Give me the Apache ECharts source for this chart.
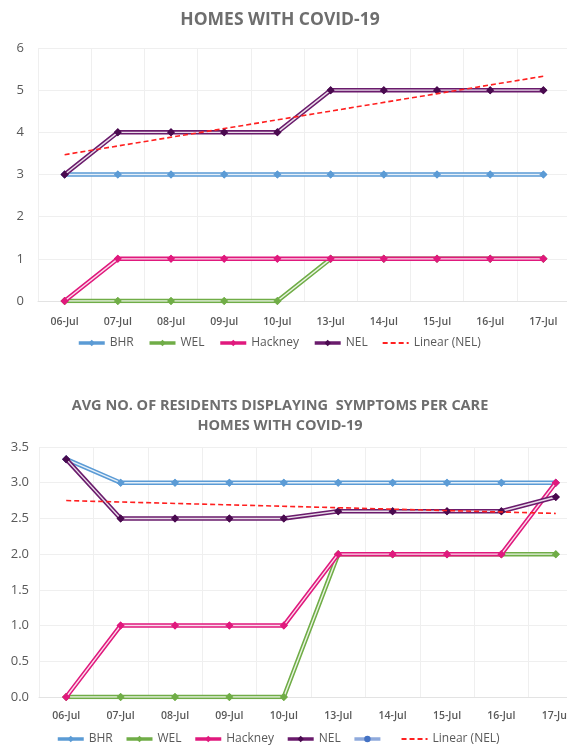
<!DOCTYPE html>
<html>
<head>
<meta charset="utf-8">
<script src="https://cdn.jsdelivr.net/npm/echarts@6/dist/echarts.min.js"></script>
<style>
html,body{margin:0;padding:0;background:#fff;overflow:hidden;width:567px;height:745px;}
#chart{width:600px;height:745px;}
</style>
</head>
<body>
<div id="chart"></div>
<script>
// ---------- DATA ----------
const categories = ['06-Jul','07-Jul','08-Jul','09-Jul','10-Jul','13-Jul','14-Jul','15-Jul','16-Jul','17-Jul'];

// Chart 1: Homes with COVID-19
const homesBHR     = [3,3,3,3,3,3,3,3,3,3];
const homesWEL     = [0,0,0,0,0,1,1,1,1,1];
const homesHackney = [0,1,1,1,1,1,1,1,1,1];
const homesNEL     = [3,4,4,4,4,5,5,5,5,5];
const homesTrendNEL = [3.47,null,null,null,null,null,null,null,null,5.33];
const homesYTicks = [0,1,2,3,4,5,6];

// Chart 2: Avg no. of residents displaying symptoms per care home with COVID-19
const avgBHR     = [3.33,3.0,3.0,3.0,3.0,3.0,3.0,3.0,3.0,3.0];
const avgWEL     = [0,0,0,0,0,2,2,2,2,2];
const avgHackney = [0,1,1,1,1,2,2,2,2,3];
const avgNEL     = [3.33,2.5,2.5,2.5,2.5,2.6,2.6,2.6,2.6,2.8];
const avgBlank   = [null,null,null,null,null,null,null,null,null,null];
const avgTrendNEL = [2.75,null,null,null,null,null,null,null,null,2.57];
const avgYTicks = ['0.0','0.5','1.0','1.5','2.0','2.5','3.0','3.5'];

// ---------- STYLE ----------
const C = {
  BHR:  {line:'#5B9BD5', mark:'#5B9BD5'},
  WEL:  {line:'#70AD47', mark:'#70AD47'},
  Hack: {line:'#E0197D', mark:'#E0197D'},
  NEL:  {line:'#6A1B6C', mark:'#4A0A4F'},
  Blank:{line:'#8FAADC', mark:'#4472C4'}
};
const FONT = 'Open Sans';
const GREY = '#595959';

function doubleLine(name, data, col, gi, symbol, zBase) {
  const out = [];
  out.push({
    name: name, type: 'line', xAxisIndex: gi, yAxisIndex: gi, data: data,
    symbol: symbol, symbolSize: 8, showSymbol: true,
    lineStyle: {color: col.line, width: 4.5},
    itemStyle: {color: col.mark, borderWidth: 0},
    z: zBase, animation: false, silent: true
  });
  out.push({
    name: name + '_inner', type: 'line', xAxisIndex: gi, yAxisIndex: gi, data: data,
    showSymbol: false, symbol: 'none',
    lineStyle: {color: 'rgba(255,255,255,0.85)', width: 1.4},
    z: zBase + 1, animation: false, silent: true
  });
  out.push({
    name: name + '_marks', type: 'line', xAxisIndex: gi, yAxisIndex: gi, data: data,
    symbol: symbol, symbolSize: 8, showSymbol: true,
    lineStyle: {opacity: 0, width: 0},
    itemStyle: {color: col.mark, borderWidth: 0},
    z: zBase + 2, animation: false, silent: true
  });
  return out;
}

function trend(name, data, gi) {
  return {
    name: name, type: 'line', xAxisIndex: gi, yAxisIndex: gi, data: data,
    connectNulls: true, symbol: 'none', showSymbol: false,
    lineStyle: {color: '#FF2020', width: 1.6, type: [5, 3]},
    itemStyle: {color: '#FF2020'},
    z: 20, animation: false, silent: true
  };
}

const xAxisCommon = {
  type: 'category', data: categories, boundaryGap: true,
  axisLine: {show: true, lineStyle: {color: '#E3E3E3', width: 1}},
  axisTick: {show: false},
  splitLine: {show: true, lineStyle: {color: '#EFEFEF', width: 1}},
  axisLabel: {color: GREY, fontFamily: FONT, fontSize: 10.5, fontWeight: 600, interval: 0}
};

let series = [];
series = series.concat(doubleLine('BHR', homesBHR, C.BHR, 0, 'diamond', 2));
series = series.concat(doubleLine('WEL', homesWEL, C.WEL, 0, 'diamond', 5));
series = series.concat(doubleLine('Hackney', homesHackney, C.Hack, 0, 'diamond', 8));
series = series.concat(doubleLine('NEL', homesNEL, C.NEL, 0, 'diamond', 11));
series.push(trend('Linear (NEL)', homesTrendNEL, 0));

// second chart uses distinct names for legend
series = series.concat(doubleLine('BHR\u200b', avgBHR, C.BHR, 1, 'diamond', 2));
series = series.concat(doubleLine('WEL\u200b', avgWEL, C.WEL, 1, 'diamond', 5));
series = series.concat(doubleLine('Hackney\u200b', avgHackney, C.Hack, 1, 'diamond', 8));
series = series.concat(doubleLine('NEL\u200b', avgNEL, C.NEL, 1, 'diamond', 11));
series = series.concat(doubleLine(' ', avgBlank, C.Blank, 1, 'circle', 14));
series.push(trend('Linear (NEL)\u200b', avgTrendNEL, 1));

const legendText = {color: GREY, fontFamily: FONT, fontSize: 12};
const hideSym = {opacity: 0};
const thick = {width: 3.5};
function li(n){ return {name: n, lineStyle: thick}; }

const option = {
  backgroundColor: '#ffffff',
  animation: false,
  title: [
    {text: 'HOMES WITH COVID-19', left: 275, top: 6, textAlign: 'center',
     textStyle: {color: '#6E6E6E', fontFamily: FONT, fontSize: 17.5, fontWeight: 'bold', letterSpacing: 2.5}},
    {text: 'AVG NO. OF RESIDENTS DISPLAYING  SYMPTOMS PER CARE\nHOMES WITH COVID-19', left: 275, top: 391,
     textAlign: 'center',
     textStyle: {color: '#6E6E6E', fontFamily: FONT, fontSize: 14.5, fontWeight: 'bold', letterSpacing: 2.7, lineHeight: 20}}
  ],
  legend: [
    {data: [li('BHR'),li('WEL'),li('Hackney'),li('NEL'),{name:'Linear (NEL)', itemStyle: hideSym}], left: 72, top: 332,
     itemWidth: 26, itemHeight: 8, itemGap: 14, textStyle: legendText, selectedMode: false},
    {data: [li('BHR\u200b'),li('WEL\u200b'),li('Hackney\u200b'),li('NEL\u200b'),li(' '),{name:'Linear (NEL)\u200b', itemStyle: hideSym}], left: 51, top: 728,
     itemWidth: 26, itemHeight: 8, itemGap: 12, textStyle: legendText, selectedMode: false,
     formatter: function(n){ return n.replace('\u200b',''); }}
  ],
  grid: [
    {left: 38, top: 48, width: 532, height: 253},
    {left: 39, top: 447, width: 544, height: 250}
  ],
  xAxis: [
    Object.assign({gridIndex: 0}, xAxisCommon, {axisLabel: Object.assign({}, xAxisCommon.axisLabel, {margin: 16})}),
    Object.assign({gridIndex: 1}, xAxisCommon, {axisLabel: Object.assign({}, xAxisCommon.axisLabel, {margin: 14})})
  ],
  yAxis: [
    {type: 'value', gridIndex: 0, min: homesYTicks[0], max: homesYTicks[homesYTicks.length-1], interval: 1,
     axisLine: {show: false}, axisTick: {show: false},
     splitLine: {lineStyle: {color: '#EFEFEF', width: 1}},
     axisLabel: {color: GREY, fontFamily: FONT, fontSize: 13, margin: 14}},
    {type: 'value', gridIndex: 1, min: 0, max: 3.5, interval: 0.5,
     axisLine: {show: false}, axisTick: {show: false},
     splitLine: {lineStyle: {color: '#EFEFEF', width: 1}},
     axisLabel: {color: GREY, fontFamily: FONT, fontSize: 13, margin: 10,
       formatter: function(v){ return avgYTicks[Math.round(v/0.5)]; }}}
  ],
  series: series
};

const chart = echarts.init(document.getElementById('chart'), null, {renderer: 'canvas'});
chart.setOption(option);
</script>
</body>
</html>
